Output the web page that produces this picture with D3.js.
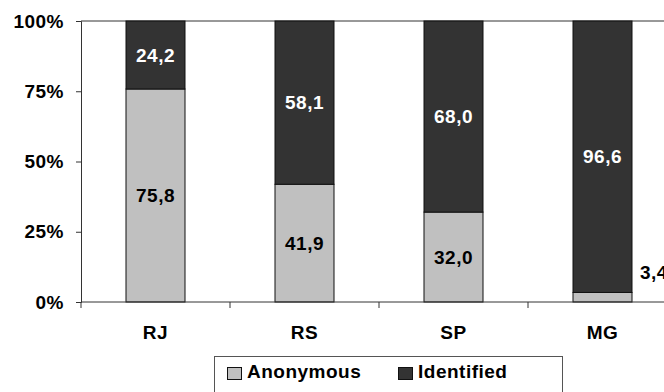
<!DOCTYPE html>
<html><head><meta charset="utf-8">
<script src="https://cdn.jsdelivr.net/npm/d3@7"></script>
<style>body{margin:0;background:#fff}svg{display:block}text{font-family:"Liberation Sans",Arial,sans-serif;font-weight:bold;letter-spacing:0.5px}</style>
</head><body><svg id="c" width="664" height="392"></svg>
<script>
const categories = ["RJ","RS","SP","MG"];
const anonymous = [75.8, 41.9, 32.0, 3.4];
const identified = [24.2, 58.1, 68.0, 96.6];
const seriesNames = ["Anonymous","Identified"];
const yTicks = [0,25,50,75,100];
const colors = ["#c0c0c0","#333333"];

(function(){
const FS = 19;
const svg = d3.select("#c");
const mLeft = 81, mTop = 21, mBottom = 302, mRight = 677;
const x = d3.scaleBand().domain(categories).range([mLeft,mRight]).paddingInner(0).paddingOuter(0);
const y = d3.scaleLinear().domain([0,100]).range([mBottom,mTop]);
const barW = 59;

// top line
svg.append("line").attr("x1",mLeft).attr("x2",664).attr("y1",y(100)).attr("y2",y(100)).attr("stroke","#333").attr("stroke-width",1);

const data = categories.map((c,i)=>({c, a:anonymous[i], d:identified[i]}));
const g = svg.append("g");
const fmt = v=>v.toFixed(1).replace(".",",");
data.forEach(dd=>{
  const cx = x(dd.c)+x.bandwidth()/2;
  g.append("rect").attr("x",cx-barW/2).attr("width",barW).attr("y",y(dd.a)).attr("height",y(0)-y(dd.a))
    .attr("fill",colors[0]).attr("stroke","#111").attr("stroke-width",1);
  g.append("rect").attr("x",cx-barW/2).attr("width",barW).attr("y",y(100)).attr("height",y(dd.a)-y(100))
    .attr("fill",colors[1]).attr("stroke","#111").attr("stroke-width",1);
  g.append("text").attr("x",cx).attr("y",(y(100)+y(dd.a))/2).attr("dy","0.35em").attr("text-anchor","middle")
    .attr("fill","#fff").attr("font-size",FS).text(fmt(dd.d));
  if (dd.a > 10) {
    g.append("text").attr("x",cx).attr("y",(y(0)+y(dd.a))/2).attr("dy","0.35em").attr("text-anchor","middle")
      .attr("fill","#000").attr("font-size",FS).text(fmt(dd.a));
  } else {
    g.append("text").attr("x",cx+barW/2+8).attr("y",y(0)-30).attr("dy","0.35em").attr("text-anchor","start")
      .attr("fill","#000").attr("font-size",FS).text(fmt(dd.a));
  }
});

// y axis
const yAxis = svg.append("g").attr("transform",`translate(${mLeft},0)`)
  .call(d3.axisLeft(y).tickValues(yTicks).tickFormat(d=>d+"%").tickSize(5).tickPadding(12));
yAxis.select(".domain").attr("stroke","#333");
yAxis.selectAll(".tick line").attr("stroke","#333");
yAxis.selectAll("text").attr("font-size",FS).attr("fill","#000").style("font-family","Liberation Sans, Arial, sans-serif").style("font-weight","bold");

// x axis
const xAxis = svg.append("g").attr("transform",`translate(0,${mBottom})`)
  .call(d3.axisBottom(x).tickSize(0).tickPadding(24));
xAxis.select(".domain").remove();
xAxis.selectAll("text").attr("font-size",FS).attr("fill","#000").style("font-family","Liberation Sans, Arial, sans-serif").style("font-weight","bold");
svg.append("line").attr("x1",mLeft).attr("x2",664).attr("y1",mBottom).attr("y2",mBottom).attr("stroke","#333");
categories.forEach(c=>{
  svg.append("line").attr("x1",x(c)).attr("x2",x(c)).attr("y1",mBottom).attr("y2",mBottom+6).attr("stroke","#333");
});

// legend
const lg = svg.append("g");
lg.append("rect").attr("x",214.5).attr("y",356.5).attr("width",348).attr("height",40).attr("fill","#fff").attr("stroke","#555");
const lx = [227, 398];
seriesNames.forEach((s,i)=>{
  lg.append("rect").attr("x",lx[i]+0.5).attr("y",367.5).attr("width",14).attr("height",12).attr("fill",colors[i]).attr("stroke","#111");
  lg.append("text").attr("x",lx[i]+20).attr("y",378).attr("font-size",FS).attr("fill","#000").text(s);
});
})();
</script></body></html>
